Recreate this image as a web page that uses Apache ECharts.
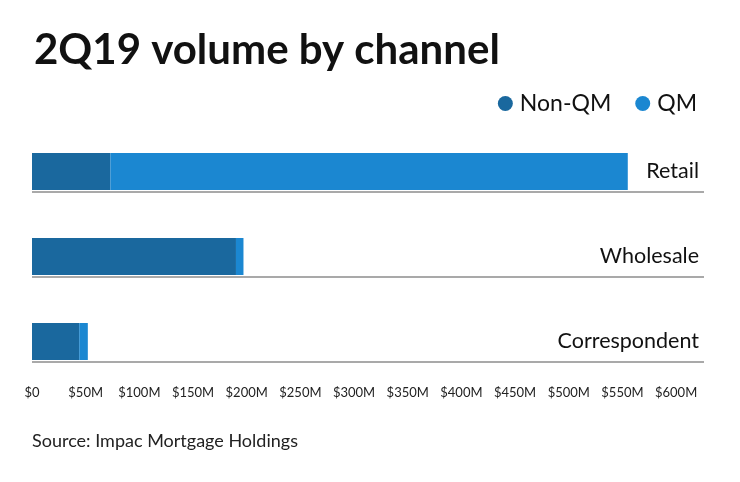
<!DOCTYPE html>
<html><head><meta charset="utf-8">
<script src="https://cdn.jsdelivr.net/npm/echarts@6/dist/echarts.min.js"></script>
<style>html,body{margin:0;padding:0;background:#fff}#c{width:740px;height:482px}</style>
</head><body><div id="c"></div>
<script>
const categories = ['Retail', 'Wholesale', 'Correspondent'];
const nonQM = [73, 190, 44];
const qm = [482, 7, 8];
const tickValues = [0, 50, 100, 150, 200, 250, 300, 350, 400, 450, 500, 550, 600];

const fontFam = 'Lato, "Noto Sans", sans-serif';
const chart = echarts.init(document.getElementById('c'));
chart.setOption({
  animation: false,
  backgroundColor: '#fff',
  title: {
    text: '2Q19 volume by channel', left: 29, top: 24,
    textStyle: { fontFamily: fontFam, fontWeight: 'bold', fontSize: 42, color: '#111' }
  },
  legend: {
    data: ['Non-QM', 'QM'], right: 38, top: 87, icon: 'circle', itemWidth: 15, itemHeight: 15,
    itemGap: 24,
    textStyle: { fontFamily: fontFam, fontSize: 23, color: '#111', padding: [0, 0, 0, 2] }
  },
  graphic: [{
    type: 'text', left: 32, top: 432,
    style: { text: 'Source: Impac Mortgage Holdings', font: '18px ' + fontFam, fill: '#222' }
  }],
  grid: { left: 32, right: 36, top: 107, bottom: 120 },
  xAxis: {
    type: 'value', min: 0, max: 626, interval: 50,
    axisLine: { show: false }, axisTick: { show: false }, splitLine: { show: false },
    axisLabel: {
      margin: 24, fontFamily: fontFam, fontSize: 13, color: '#222',
      formatter: v => tickValues.includes(v) ? (v === 0 ? '$0' : '$' + v + 'M') : ''
    }
  },
  yAxis: {
    type: 'category', data: categories, inverse: true, position: 'right',
    axisLine: { show: false }, axisTick: { show: false },
    splitLine: { show: true, lineStyle: { color: '#8c8c8c', width: 1.5 },
      interval: (i) => i !== 0 },
    axisLabel: {
      inside: true, margin: 5, verticalAlign: 'top', lineHeight: 44,
      fontFamily: fontFam, fontSize: 21.5, color: '#111'
    }
  },
  series: [
    { name: 'dummy', type: 'bar', data: [0, 0, 0], barWidth: 37, barGap: '19%', silent: true,
      itemStyle: { color: 'transparent' } },
    { name: 'Non-QM', type: 'bar', stack: 'a', data: nonQM, barWidth: 37,
      itemStyle: { color: '#1a689e' } },
    { name: 'QM', type: 'bar', stack: 'a', data: qm, barWidth: 37,
      itemStyle: { color: '#1b87d1' } }
  ]
});
</script></body></html>
